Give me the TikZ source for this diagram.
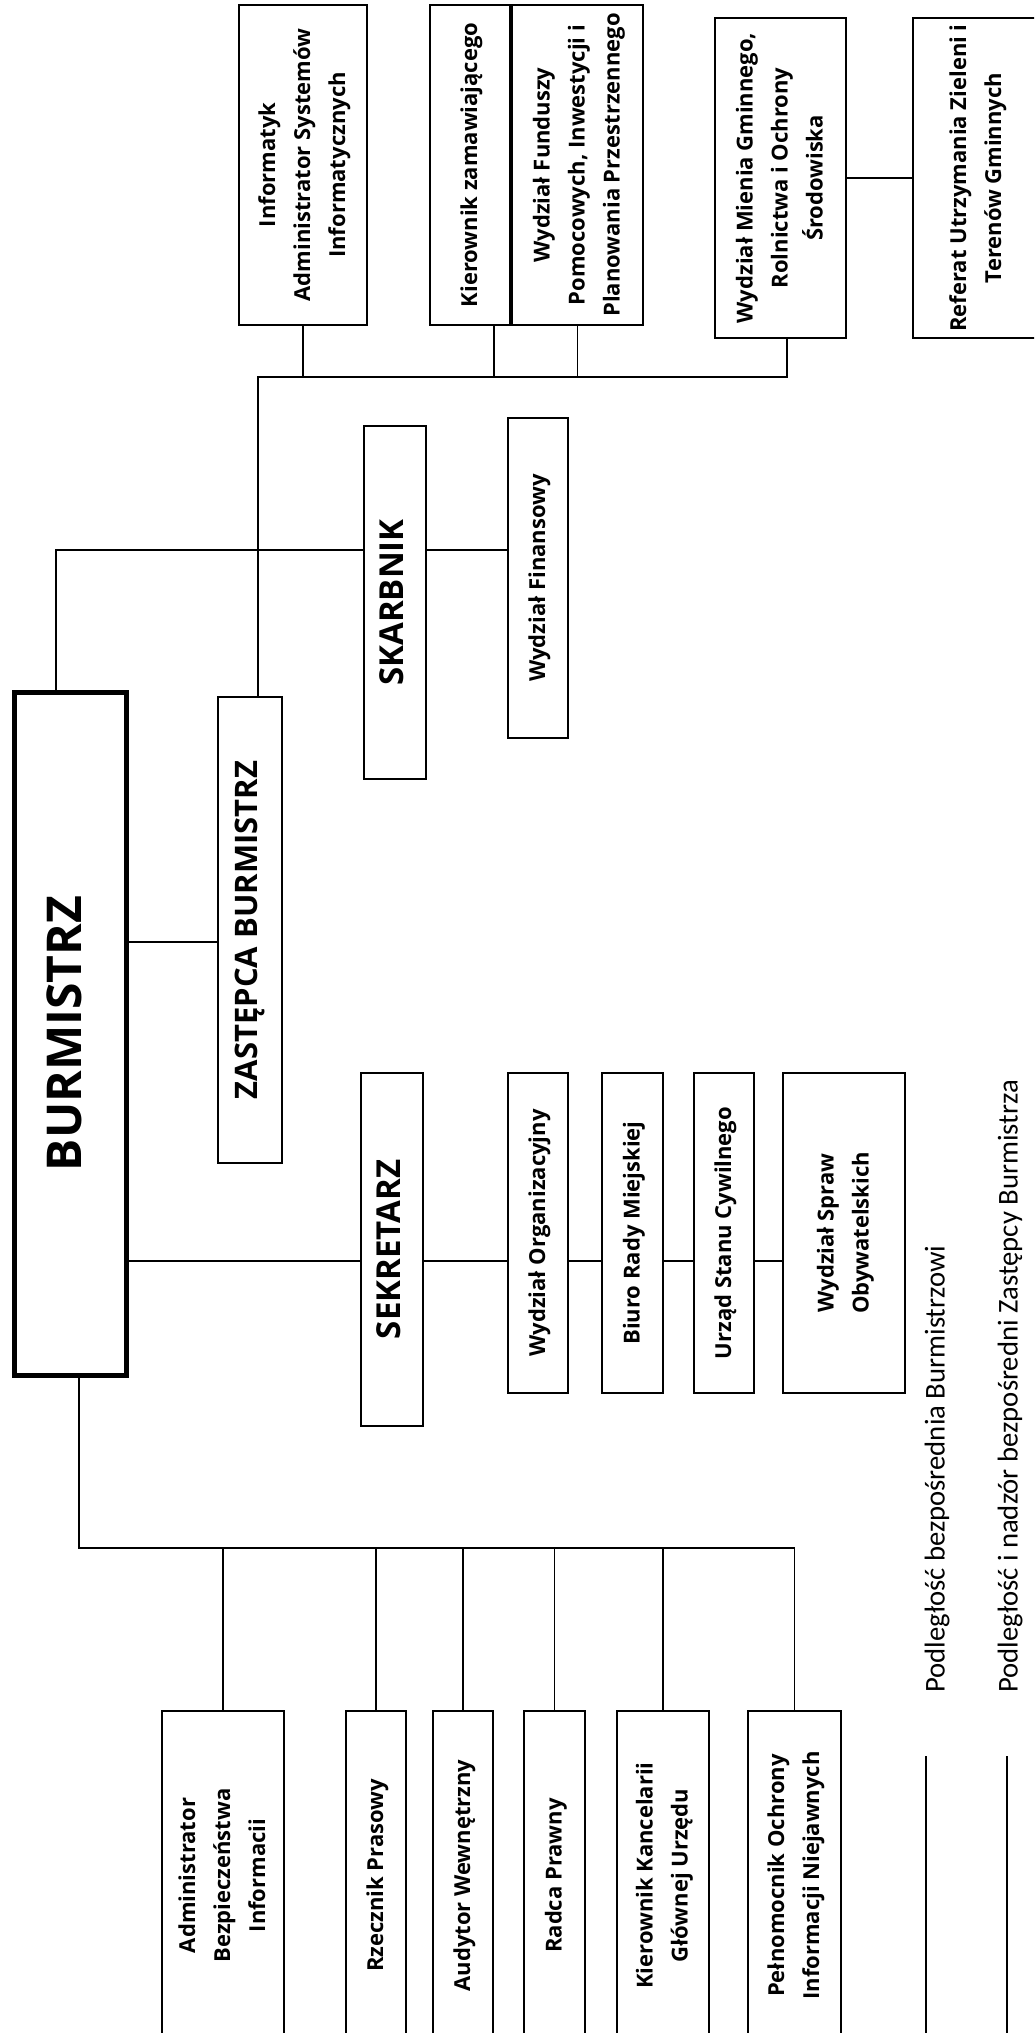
\documentclass[tikz,border=0pt]{standalone}
\usepackage{fontspec}
\usepackage{graphicx}
\setmainfont{Open Sans}
\newfontfamily\legendfont{Carlito}
\usetikzlibrary{calc}
\newcommand{\vlabel}[1]{\rotatebox{90}{\begin{tabular}{@{}c@{}}#1\end{tabular}}}
\tikzset{
	unit/.style={draw, line width=1.5pt, inner sep=0pt, font=\bfseries\fontsize{22}{35}\selectfont}, % every office box
	chief/.style={unit, font=\bfseries\fontsize{33}{40}\selectfont}, % deputies, treasurer, secretary
	mayor/.style={unit, line width=5pt, font=\bfseries\fontsize{48}{56}\selectfont}, % the head box
	link/.style={line width=1.4pt}, % subordination lines
	legline/.style={line width=2pt}, % sample lines of the legend
	legtext/.style={inner sep=0pt, anchor=south, font=\legendfont\fontsize{28.7}{34}\selectfont}, % legend texts
}

\begin{document}
\begin{tikzpicture}[x=1pt, y=-1pt]
		\useasboundingbox (0,0) rectangle (1034,2033);
		\clip (0,0) rectangle (1034,2033);
		
		% head
		\node[mayor, minimum width=112pt, minimum height=683pt] (burm) at (70,1033.5) {\vlabel{BURMISTRZ}};
		\node[chief, minimum width=64pt, minimum height=466pt, font=\bfseries\fontsize{31}{38}\selectfont] (zast) at (250,930) {\vlabel{ZASTĘPCA BURMISTRZ}};
		\node[chief, minimum width=62pt, minimum height=353pt] (skarb) at (395,602.5) {\vlabel{SKARBNIK}};
		\node[chief, minimum width=62pt, minimum height=353pt] (sekr) at (392,1249.5) {\vlabel{SEKRETARZ}};
		
		% treasurer and secretary
		\node[unit, minimum width=60pt, minimum height=320pt] (fin) at (538,578) {\vlabel{Wydział Finansowy}};
		\node[unit, minimum width=60pt, minimum height=320pt] (org) at (538,1233) {\vlabel{Wydział Organizacyjny}};
		\node[unit, minimum width=61pt, minimum height=320pt] (biuro) at (632.5,1233) {\vlabel{Biuro Rady Miejskiej}};
		\node[unit, minimum width=60pt, minimum height=320pt] (usc) at (724,1233) {\vlabel{Urząd Stanu Cywilnego}};
		\node[unit, minimum width=122pt, minimum height=320pt] (spraw) at (844,1233) {\vlabel{Wydział Spraw\\Obywatelskich}};
		
		% deputy
		\node[unit, minimum width=128pt, minimum height=320pt] (inf) at (303,165) {\vlabel{Informatyk\\Administrator Systemów\\Informatycznych}};
		\node[unit, minimum width=80pt, minimum height=320pt] (kier) at (470,165) {\vlabel{Kierownik zamawiającego}};
		\node[unit, minimum width=131pt, minimum height=320pt] (fund) at (577.5,165) {\vlabel{Wydział Funduszy\\Pomocowych, Inwestycji i\\Planowania Przestrzennego}};
		\node[unit, minimum width=131pt, minimum height=320pt] (mienia) at (780.5,178) {\vlabel{Wydział Mienia Gminnego,\\Rolnictwa i Ochrony\\Środowiska}};
		\node[unit, minimum width=127pt, minimum height=320pt] (ref) at (976.5,178) {\vlabel{Referat Utrzymania Zieleni i\\Terenów Gminnych}};
		
		% directly under the mayor
		\node[unit, minimum width=122pt, minimum height=329pt] (abi) at (223,1875.5) {\vlabel{Administrator\\Bezpieczeństwa\\Informacii}};
		\node[unit, minimum width=60pt, minimum height=329pt] (rzecz) at (376,1875.5) {\vlabel{Rzecznik Prasowy}};
		\node[unit, minimum width=60pt, minimum height=329pt] (aud) at (463,1875.5) {\vlabel{Audytor Wewnętrzny}};
		\node[unit, minimum width=61pt, minimum height=329pt] (radca) at (554.5,1875.5) {\vlabel{Radca Prawny}};
		\node[unit, minimum width=92pt, minimum height=329pt] (kanc) at (663,1875.5) {\vlabel{Kierownik Kancelarii\\Głównej Urzędu}};
		\node[unit, minimum width=93pt, minimum height=329pt] (peln) at (794.5,1875.5) {\vlabel{Pełnomocnik Ochrony\\Informacji Niejawnych}};
		
		% legend
		\node[legtext] (leg1) at (937,1693) {\rotatebox{90}{Podległość bezpośrednia Burmistrzowi}};
		\node[legtext] (leg2) at (1010,1693) {\rotatebox{90}{Podległość i nadzór bezpośredni Zastępcy Burmistrza}};
		\coordinate (l1) at (926,1756);
		\coordinate (l2) at (1007,1756);
		\draw[legline] (l1) -- (l1 |- 0,2040);
		\draw[legline] (l2) -- (l2 |- 0,2040);
		
		% junctions
		\coordinate (jsk) at (56,550);
		\coordinate (jz) at (0,942);
		\coordinate (jse) at (0,1261);
		\coordinate (jzt) at (258,377);
		\coordinate (jkier) at (494,377);
		\coordinate (jzm) at (787,377);
		\coordinate (jb) at (79,1548);
		
		\draw[link] (burm.north -| jsk) -- (jsk) -- (jsk -| skarb.west);
		\draw[link] (jsk -| skarb.east) -- (jsk -| fin.west);
		\draw[link] (jz -| burm.east) -- (jz -| zast.west);
		\draw[link] (jse -| burm.east) -- (jse -| sekr.west);
		\foreach \a/\b in {sekr/org, org/biuro, biuro/usc, usc/spraw}
			\draw[link] (jse -| \a.east) -- (jse -| \b.west);
		
		\draw[link] (zast.north -| jzt) -- (jzt) -- (jzm) -- (jzm |- mienia.south);
		\draw[link] (jzt -| inf.south) -- (inf.south);
		\draw[link] (jkier) -- (jkier |- kier.south);
		\draw[link] (jzt -| fund.south) -- (fund.south);
		\draw[link] (mienia.east) -- (ref.west);
		
		\draw[link] (burm.south -| jb) -- (jb) -- (jb -| peln.north) -- (peln.north);
		\foreach \b in {abi, rzecz, aud, radca, kanc}
			\draw[link] (jb -| \b.north) -- (\b.north);
\end{tikzpicture}
\end{document}
